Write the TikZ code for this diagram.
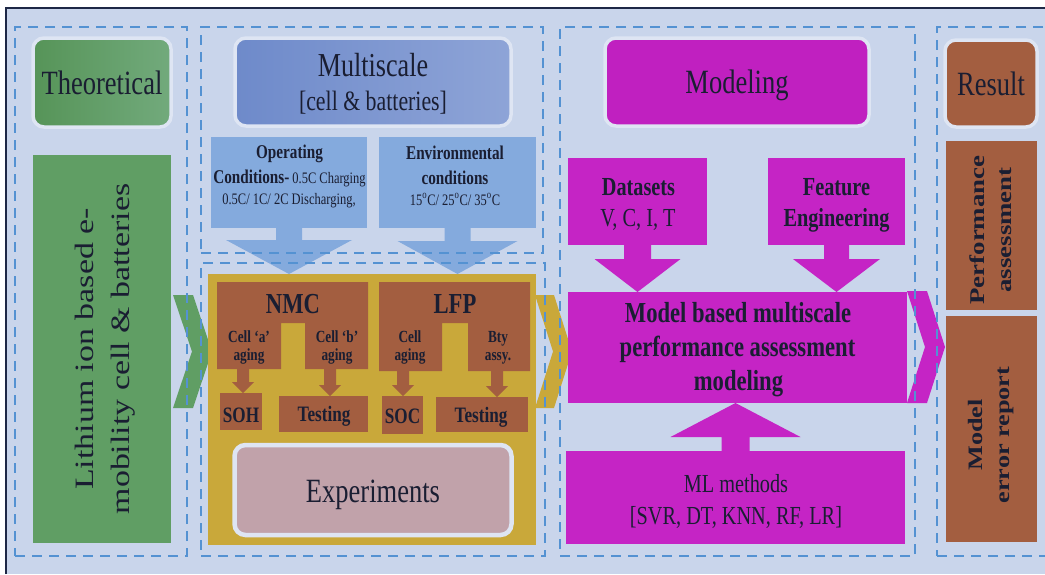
\documentclass[tikz,border=0pt]{standalone}
\usepackage{fontspec}
\setmainfont[FakeStretch=0.78]{Liberation Serif}
\newfontfamily\rotfont[FakeStretch=1.28]{Liberation Serif}
\usetikzlibrary{calc}
\definecolor{bgc}{RGB}{201,213,235}
\definecolor{navyline}{RGB}{30,40,70}
\definecolor{dashc}{RGB}{84,146,210}
\definecolor{grn}{RGB}{96,158,100}
\definecolor{grnA}{RGB}{86,148,88}
\definecolor{grnB}{RGB}{114,170,124}
\definecolor{mblueA}{RGB}{110,138,202}
\definecolor{mblueB}{RGB}{142,164,215}
\definecolor{lblue}{RGB}{132,170,221}
\definecolor{gold}{RGB}{201,168,58}
\definecolor{brn}{RGB}{163,94,64}
\definecolor{pinkc}{RGB}{193,162,170}
\definecolor{mag}{RGB}{197,36,197}
\definecolor{magH}{RGB}{192,32,192}
\definecolor{txt}{RGB}{26,30,50}
\definecolor{rim}{RGB}{222,229,243}
\newcommand{\fz}[2]{\fontsize{#1}{#2}\selectfont}
% vertical block arrow: #1 from, #2 tip, #3 stem half width, #4 head half width, #5 head length, #6 colour
\newcommand{\blkarrow}[6]{%
  \fill[#6] let \p1=(#1), \p2=(#2),
    \n1={ifthenelse(\y1>\y2,\y2+#5pt,\y2-#5pt)} in
    ({\x1-#3pt},\y1) -- ({\x1-#3pt},{\n1*1pt}) -- ({\x1-#4pt},{\n1*1pt}) -- (\x1,\y2)
    -- ({\x1+#4pt},{\n1*1pt}) -- ({\x1+#3pt},{\n1*1pt}) -- ({\x1+#3pt},\y1) -- cycle;}
\tikzset{
  panel/.style={draw=dashc, line width=2.2pt, dash pattern=on 10pt off 7pt},
  sz/.style 2 args={minimum width=#1pt, minimum height=#2pt},
  hdr/.style={rounded corners=11pt, draw=rim, line width=3.5pt},
  lbl/.style={anchor=base},
}
\begin{document}
\begin{tikzpicture}[x=1pt,y=-1pt, every node/.style={inner sep=0pt, outer sep=0pt, text=txt, align=center}]
\useasboundingbox (0,0) rectangle (1045,574);
\clip (0,0) rectangle (1045,574);
\fill[white] (0,0) rectangle (1045,574);
\fill[bgc] (6,8) rectangle (1045,574);
\draw[navyline,line width=1.3pt] (6,574) -- (6,8) -- (1045,8);

% ---------- Theoretical column
\node[hdr, sz={138}{89}, left color=grnA, right color=grnB] (theo) at (102,82.5) {};
\node[lbl, font=\fz{34}{40}] (theoT) at (102,94) {Theoretical};
\node[fill=grn, sz={138}{388}] (li) at (102,349) {};
\node[rotate=90, font=\rotfont\fz{26.5}{36}] (liT) at (105,349) {Lithium ion based e-\\mobility cell \& batteries};
\fill[grn] (173,295) -- (193,295) -- (212,351.5) -- (193,408) -- (173,408) -- (192,351.5) -- cycle;

% ---------- Multiscale column
\node[hdr, sz={276}{88}, left color=mblueA, right color=mblueB] (multi) at (373,82) {};
\node[lbl, font=\fz{33.5}{40}] (multiT1) at (373,76) {Multiscale};
\node[lbl, font=\fz{28}{34}] (multiT2) at (373,110) {[cell \& batteries]};

\node[fill=lblue, sz={156}{91}] (op) at (289,182.5) {};
\node[lbl, font=\bfseries\fz{19.5}{24}] (op1) at (289.5,158) {Operating};
\node[lbl] (op2) at (289.5,183) {{\bfseries\fz{19.5}{24}Conditions-}\hspace{3pt}{\fz{16}{20}0.5C Charging}};
\node[lbl, font=\fz{16}{20}] (op3) at (289,204) {0.5C/ 1C/ 2C Discharging,};

\node[fill=lblue, sz={157}{91}] (env) at (457.5,182.5) {};
\node[lbl, font=\bfseries\fz{19.5}{24}] (env1) at (455,159) {Environmental};
\node[lbl, font=\bfseries\fz{19.5}{24}] (env2) at (455,184) {conditions};
\node[lbl, font=\fz{16}{20}] (env3) at (455,205) {15\textsuperscript{o}C/ 25\textsuperscript{o}C/ 35\textsuperscript{o}C};

\node[fill=gold, sz={328}{271}] (gold) at (372,409.5) {};
\blkarrow{op.south}{op.south |- gold.north}{13}{63}{34}{lblue}
\blkarrow{env.south}{env.south |- gold.north}{13}{60}{33}{lblue}

% NMC block
\fill[brn] (217,282) -- (368,282) -- (368,369) -- (305,369) -- (305,323) -- (281,323) -- (281,369) -- (217,369) -- cycle;
\node[lbl, font=\bfseries\fz{29}{34}] (nmcT) at (293,313) {NMC};
\node[lbl, font=\bfseries\fz{17}{19}] (cA1) at (249,342) {Cell `a'};
\node[lbl, font=\bfseries\fz{17}{19}] (cA2) at (249,360) {aging};
\node[lbl, font=\bfseries\fz{17}{19}] (cB1) at (337,342) {Cell `b'};
\node[lbl, font=\bfseries\fz{17}{19}] (cB2) at (337,360) {aging};
% LFP block
\fill[brn] (379,282) -- (530,282) -- (530,371) -- (468,371) -- (468,323) -- (442,323) -- (442,371) -- (379,371) -- cycle;
\node[lbl, font=\bfseries\fz{29}{34}] (lfpT) at (455,313) {LFP};
\node[lbl, font=\bfseries\fz{17}{19}] (lA1) at (410,342) {Cell};
\node[lbl, font=\bfseries\fz{17}{19}] (lA2) at (410,360) {aging};
\node[lbl, font=\bfseries\fz{17}{19}] (lB1) at (498,342) {Bty};
\node[lbl, font=\bfseries\fz{17}{19}] (lB2) at (498,360) {assy.};

\node[fill=brn, sz={42}{37}] (soh) at (241,411.5) {};
\node[lbl, font=\bfseries\fz{22}{26}] (sohT) at (241,422) {SOH};
\node[fill=brn, sz={89}{36}] (tst1) at (323.5,414) {};
\node[lbl, font=\bfseries\fz{22}{26}] (tst1T) at (324,421) {Testing};
\node[fill=brn, sz={41}{38}] (soc) at (402.5,415) {};
\node[lbl, font=\bfseries\fz{22}{26}] (socT) at (402.5,423) {SOC};
\node[fill=brn, sz={92}{35}] (tst2) at (482,414.5) {};
\node[lbl, font=\bfseries\fz{22}{26}] (tst2T) at (481,422) {Testing};

\coordinate (nl) at (243,368);
\coordinate (nr) at (330,368);
\coordinate (ll) at (403,370);
\coordinate (lr) at (497,370);
\blkarrow{nl}{nl |- soh.north}{6}{11}{11}{brn}
\blkarrow{nr}{nr |- tst1.north}{6}{11}{11}{brn}
\blkarrow{ll}{ll |- soc.north}{6}{11}{11}{brn}
\blkarrow{lr}{lr |- tst2.north}{6}{11}{11}{brn}

\node[hdr, sz={277}{90}, fill=pinkc, line width=4.5pt] (exp) at (373,490) {};
\node[lbl, font=\fz{34}{40}] (expT) at (373,502) {Experiments};

\fill[gold] (535,295) -- (554,295) -- (572,351.5) -- (554,408) -- (535,408) -- (553,351.5) -- cycle;

% ---------- Modeling column
\node[hdr, sz={264}{88}, fill=magH] (model) at (737,82) {};
\node[lbl, font=\fz{34}{40}] (modelT) at (737,93) {Modeling};

\node[fill=mag, sz={139}{87}] (ds) at (637.5,201.5) {};
\node[lbl, font=\bfseries\fz{26}{30}] (ds1) at (638.5,195) {Datasets};
\node[lbl, font=\fz{26}{30}] (ds2) at (638,226) {V, C, I, T};
\node[fill=mag, sz={137}{87}] (fe) at (836.5,201.5) {};
\node[lbl, font=\bfseries\fz{26}{30}] (fe1) at (836.5,195) {Feature};
\node[lbl, font=\bfseries\fz{26}{30}] (fe2) at (836.5,226) {Engineering};

\node[fill=mag, sz={339}{111}] (mb) at (737.5,347.5) {};
\node[lbl, font=\bfseries\fz{29}{34}] (mb1) at (738,322) {Model based multiscale};
\node[lbl, font=\bfseries\fz{29}{34}] (mb2) at (737.5,356) {performance assessment};
\node[lbl, font=\bfseries\fz{29}{34}] (mb3) at (738.5,390) {modeling};

\node[fill=mag, sz={339}{93}] (ml) at (735.5,497.5) {};
\node[lbl, font=\fz{26}{30}] (ml1) at (736,492) {ML methods};
\node[lbl, font=\fz{26}{30}] (ml2) at (736,524) {[SVR, DT, KNN, RF, LR]};

\blkarrow{ds.south}{ds.south |- mb.north}{13.5}{43}{33}{mag}
\blkarrow{fe.south}{fe.south |- mb.north}{12.5}{43.5}{33}{mag}
\blkarrow{ml.north}{ml.north |- mb.south}{14}{65}{34}{mag}

\fill[mag] (907,291) -- (927,291) -- (945,347) -- (927,403) -- (907,403) -- (925,347) -- cycle;

% ---------- Result column
\node[hdr, sz={92}{87}, fill=brn] (res) at (991,83.5) {};
\node[lbl, font=\fz{34}{40}] (resT) at (991,95) {Result};
\node[fill=brn, sz={91}{169}] (perf) at (991.5,225.5) {};
\node[rotate=90, font=\rotfont\bfseries\fz{21}{27}] (perfT) at (991,230) {Performance\\assessment};
\node[fill=brn, sz={91}{226}] (err) at (991.5,429) {};
\node[rotate=90, font=\rotfont\bfseries\fz{20.5}{27}] (errT) at (991,435) {Model\\error report};

% ---------- dashed panels
\node[panel, sz={172}{529}] (p1) at (101,291.5) {};
\node[panel, sz={342}{226}] (p2) at (372,140) {};
\node[panel, sz={344}{293}] (p3) at (373,409.5) {};
\node[panel, sz={355}{529}] (p4) at (737.5,291.5) {};
\node[panel, sz={120}{529}] (p5) at (997,291.5) {};
\end{tikzpicture}
\end{document}
